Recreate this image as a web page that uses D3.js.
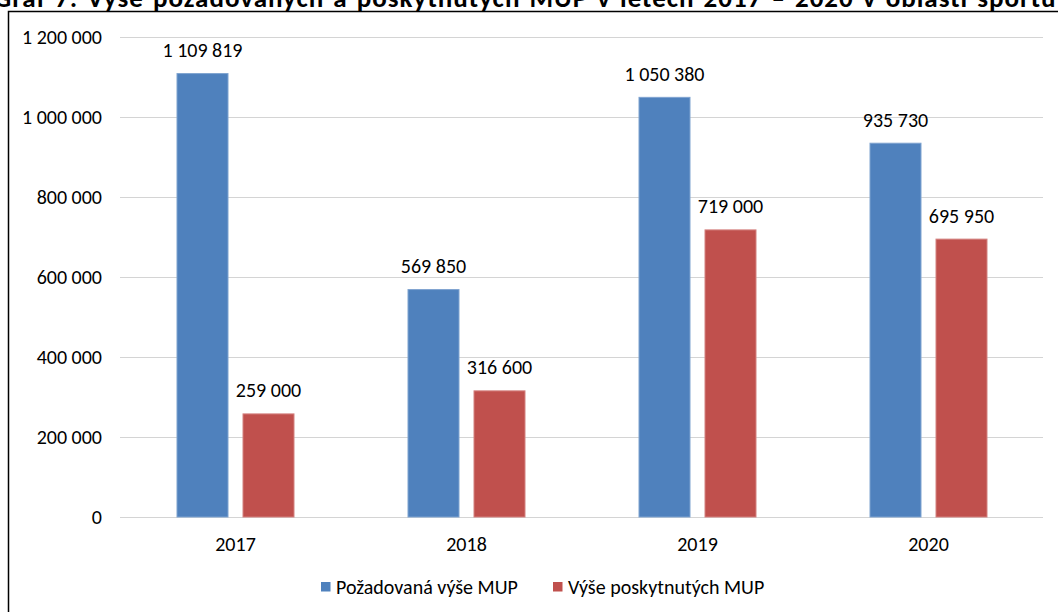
<!DOCTYPE html>
<html><head><meta charset="utf-8">
<script src="https://cdn.jsdelivr.net/npm/d3@7"></script>
<style>
body{margin:0;background:#fff;}
svg{display:block;font-family:Calibri,Carlito,Lato,sans-serif;}
</style></head>
<body><svg id="c" width="1058" height="612"></svg>
<script>
const title = "Graf 7: Výše požadovaných a poskytnutých MUP v letech 2017 – 2020 v oblasti sportu a";
const years = ["2017","2018","2019","2020"];
const seriesNames = ["Požadovaná výše MUP","Výše poskytnutých MUP"];
const requested = [1109819, 569850, 1050380, 935730];
const granted = [259000, 316600, 719000, 695950];
const yTicks = [0,200000,400000,600000,800000,1000000,1200000];
const colors = ["#4F81BD","#C0504D"];
const strokes = ["#7FA3D0","#D48280"];

const fmt = v => d3.format(",")(v).replace(/,/g," ");
const svg = d3.select("#c");
const FS = 20;

// title (cut off at top, as in the reference)
svg.append("text").attr("x",-6).attr("y",7).attr("font-weight","bold").attr("font-size",27)
  .attr("letter-spacing",1).attr("word-spacing",2)
  .attr("fill","#000").text(title);
// frame
svg.append("rect").attr("x",8.5).attr("y",11.5).attr("width",1200).attr("height",800)
  .attr("fill","#fff").attr("stroke","#000").attr("stroke-width",1.5);

const x = d3.scaleBand().domain(years).range([120,1044]).padding(0);
const y = d3.scaleLinear().domain([0,1200000]).range([517,37]);

// gridlines
svg.append("g").selectAll("line").data(yTicks).join("line")
  .attr("x1",120).attr("x2",1043).attr("y1",d=>Math.round(y(d))+0.5).attr("y2",d=>Math.round(y(d))+0.5)
  .attr("stroke","#D4D4D4").attr("stroke-width",1.2);

// y axis labels
const yAxis = d3.axisLeft(y).tickValues(yTicks).tickFormat(fmt).tickSize(0).tickPadding(0);
const ga = svg.append("g").attr("transform","translate(102,0)").call(yAxis);
ga.select(".domain").remove();
ga.selectAll("text").attr("font-size",FS).attr("font-family","Calibri,Carlito,Lato,sans-serif").attr("fill","#000");

// x axis labels
const xAxis = d3.axisBottom(x).tickSize(0).tickPadding(0);
const gx = svg.append("g").attr("transform","translate(0,537)").call(xAxis);
gx.select(".domain").remove();
gx.selectAll("text").attr("font-size",FS).attr("font-family","Calibri,Carlito,Lato,sans-serif").attr("fill","#000");

const barW = 52, gap = 14;
const data = [requested, granted];
data.forEach((vals,si)=>{
  const off = si===0 ? -(gap/2+barW) : gap/2;
  const g = svg.append("g");
  g.selectAll("rect").data(vals).join("rect")
    .attr("x",(d,i)=>x(years[i])+x.bandwidth()/2+off+0.5)
    .attr("y",d=>y(d)+0.5)
    .attr("width",barW-1).attr("height",d=>y(0)-y(d)-0.5)
    .attr("fill",colors[si]).attr("stroke",strokes[si]).attr("stroke-width",1);
  g.selectAll("text").data(vals).join("text")
    .attr("x",(d,i)=>x(years[i])+x.bandwidth()/2+off+barW/2)
    .attr("y",d=>y(d)-16)
    .attr("text-anchor","middle").attr("font-size",FS).attr("fill","#000")
    .text(fmt);
});

// legend
const leg = [{x:321,tx:336},{x:553,tx:568}];
seriesNames.forEach((n,i)=>{
  svg.append("rect").attr("x",leg[i].x).attr("y",582).attr("width",9.5).attr("height",9.5).attr("fill",colors[i]);
  svg.append("text").attr("x",leg[i].tx).attr("y",594).attr("font-size",FS).attr("fill","#000").text(n);
});
</script></body></html>
